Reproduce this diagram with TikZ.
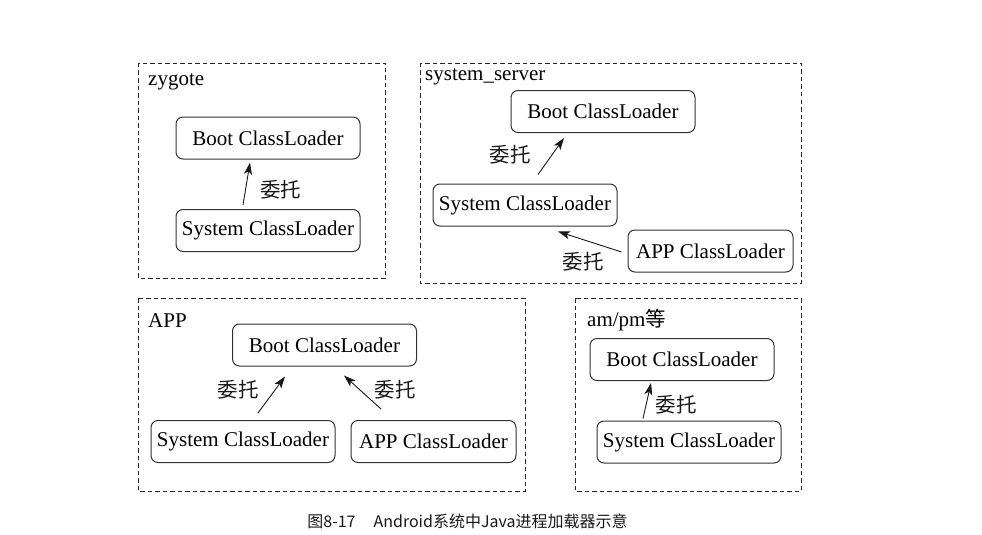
\documentclass[tikz,border=0pt]{standalone}
\usepackage{fontspec}
\setmainfont{Liberation Serif}
\newfontfamily\cjk{Noto Sans CJK SC}
\usetikzlibrary{arrows.meta,calc}
\tikzset{
  group/.style={draw=black!85, line width=0.8pt, dash pattern=on 4.5pt off 3pt},
  loader/.style={draw=black!80, line width=1pt, rounded corners=7pt, minimum height=42pt, inner sep=0pt, font=\fontsize{21}{25}\selectfont, text=black},
  wide/.style={loader, minimum width=184pt},
  narrow/.style={loader, minimum width=165pt},
  arr/.style={-{Stealth[length=12pt,width=8pt,inset=3pt]}, line width=0.9pt, black!90},
  dlg/.style={font=\cjk\fontsize{20.5}{24}\selectfont, text=black!90, inner sep=0pt},
  title/.style={anchor=base west, inner sep=0pt, font=\fontsize{21}{25}\selectfont, text=black}
}
\begin{document}
\begin{tikzpicture}[x=1pt,y=-1pt]
\useasboundingbox (0,0) rectangle (982,535);
% group frames
\draw[group] (138,63) rectangle (385,278);
\draw[group] (420,63) rectangle (801,283);
\draw[group] (138,298) rectangle (525,491);
\draw[group] (575,298) rectangle (801,491);
\node[title] (tz) at (148,85) {zygote};
\node[title] (tss) at (425,81) {system\_server};
\node[title] (tapp) at (148,327) {APP};
\node[title] (tam) at (587,326) {am/pm{\cjk\fontsize{20.5}{24}\selectfont 等}};
% zygote
\node[wide] (zb) at (268,138) {Boot ClassLoader};
\node[wide] (zs) at (268,230.5) {System ClassLoader};
\draw[arr] ($(zs.north)+(-25,-4)$) -- ($(zb.south)+(-18,3)$);
\node[dlg] (zl) at (280.5,190) {委托};
% system_server
\node[wide] (sb) at (603,111.5) {Boot ClassLoader};
\node[wide] (ss) at (525,205) {System ClassLoader};
\node[narrow] (sa) at (710.5,251) {APP ClassLoader};
\draw[arr] ($(ss.north)+(13,-9)$) -- ($(sb.south)+(-39,5)$);
\draw[arr] ($(sa.west)+(-6,1)$) -- ($(ss.south)+(33,5)$);
\node[dlg] (sl1) at (510,155) {委托};
\node[dlg] (sl2) at (583,262) {委托};
% APP
\node[wide] (ab) at (324.5,345) {Boot ClassLoader};
\node[wide] (as) at (243,441.5) {System ClassLoader};
\node[narrow] (aa) at (433.5,441.5) {APP ClassLoader};
\draw[arr] ($(as.north)+(15,-7)$) -- ($(ab.south)+(-39.5,10)$);
\draw[arr] ($(aa.north)+(-52.5,-11)$) -- ($(ab.south)+(19.5,9)$);
\node[dlg] (al1) at (238,390) {委托};
\node[dlg] (al2) at (395,390) {委托};
% am/pm
\node[wide] (mb) at (682,359.5) {Boot ClassLoader};
\node[wide] (ms) at (689,442) {System ClassLoader};
\draw[arr] ($(ms.north)+(-46,-2)$) -- ($(mb.south)+(-31,2)$);
\node[dlg] (ml) at (676,405) {委托};
% caption
\node[font=\cjk\fontsize{16}{19}\selectfont, text=black!90, inner sep=0pt] (cap) at (467.5,521) {图8-17\hspace{18pt}Android系统中Java进程加载器示意};
\end{tikzpicture}
\end{document}
